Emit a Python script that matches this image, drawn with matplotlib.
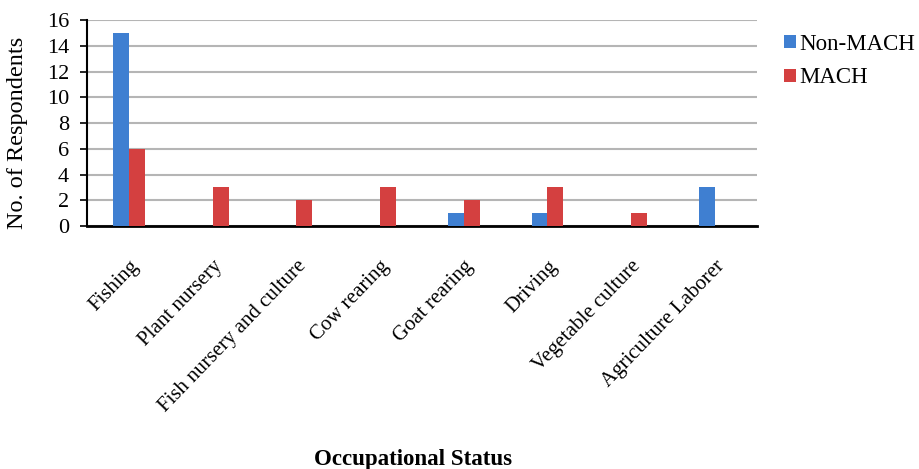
import matplotlib
matplotlib.use("Agg")
import matplotlib.pyplot as plt
import numpy as np

categories = ["Fishing", "Plant nursery", "Fish nursery and culture", "Cow rearing",
              "Goat rearing", "Driving", "Vegetable culture", "Agriculture Laborer"]
non_mach = [15, 0, 0, 0, 1, 1, 0, 3]
mach = [6, 3, 2, 3, 2, 3, 1, 0]
series_names = ["Non-MACH", "MACH"]
colors = ["#3F7FD1", "#D44040"]
y_ticks = [0, 2, 4, 6, 8, 10, 12, 14, 16]

plt.rcParams['font.family'] = ['Liberation Serif', 'DejaVu Serif']

fig = plt.figure(figsize=(9.2, 4.69), dpi=100)
ax = fig.add_axes([0.0946, 0.518, 0.728, 0.439])

x = np.arange(len(categories))
bar_width = 0.19
ax.bar(x - bar_width / 2, non_mach, bar_width, color=colors[0], label=series_names[0], zorder=3)
ax.bar(x + bar_width / 2, mach, bar_width, color=colors[1], label=series_names[1], zorder=3)

ax.set_xlim(-0.5, len(categories) - 0.5)
ax.set_ylim(0, 16)
ax.set_yticks(y_ticks)
ax.tick_params(axis='y', labelsize=16, length=5, width=1.2, direction='out', pad=8)
ax.yaxis.grid(True, color='#B5B5B5', linewidth=1.5, zorder=0)
ax.set_axisbelow(True)

ax.set_xticks(x)
ax.set_xticklabels(categories, rotation=46, ha='right', va='top', rotation_mode='anchor', fontsize=15)
ax.tick_params(axis='x', length=0, pad=22)

for side in ['top', 'right']:
    ax.spines[side].set_visible(False)
ax.spines['left'].set_linewidth(1.5)
ax.spines['bottom'].set_linewidth(2)

ax.set_ylabel("No. of Respondents", fontsize=17.5)
ax.yaxis.set_label_coords(-0.088, 0.455)
fig.text(0.449, 0.008, "Occupational Status", fontsize=16.5, fontweight='bold', ha='center')

ax.legend(loc='upper left', bbox_to_anchor=(1.010, 1.034), frameon=False, fontsize=16.5,
          handlelength=0.52, handleheight=0.52, handletextpad=0.15, labelspacing=0.55)

plt.savefig("out.png", dpi=100)
